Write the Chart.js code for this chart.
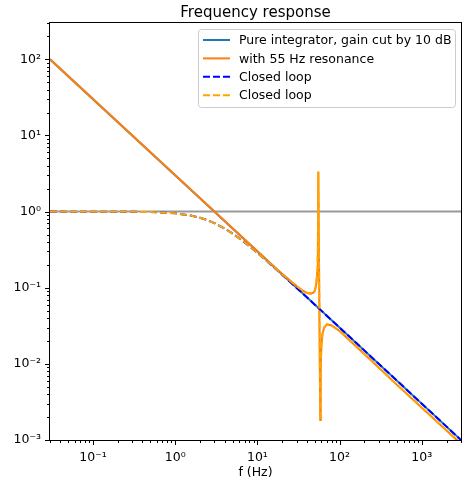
<!DOCTYPE html>
<html>
<head>
<meta charset="utf-8">
<script src="https://cdn.jsdelivr.net/npm/chart.js@4.4.0/dist/chart.umd.min.js"></script>
<style>
  html, body { margin: 0; padding: 0; background: #fff; }
</style>
</head>
<body>
<canvas id="freqChart" width="464" height="482"></canvas>
<script>
// Значения (частота в Гц, модуль)
const unityF = [0.03, 3000];
const unityG = [1, 1];

const integratorF = [0.03, 3000];
const integratorG = [100, 0.001];

const resonanceF = [0.03, 10, 20, 30, 35, 40, 45, 48, 50, 52, 53.5, 54.5, 55.1, 58.2, 59, 60, 62, 65, 70, 80, 100, 150, 200, 500, 3000];
const resonanceG = [100, 0.301, 0.152, 0.105, 0.092, 0.086, 0.084, 0.086, 0.092, 0.11, 0.16, 0.37, 3.36, 0.00183, 0.0094, 0.017, 0.025, 0.03, 0.033, 0.032, 0.027, 0.018, 0.0135, 0.0053, 0.00089];

const closedF = [0.03, 0.3, 0.6, 1, 1.5, 2, 2.5, 3, 4, 5, 7, 10, 15, 20, 30, 50, 100, 3000];
const closedG = [1, 0.995, 0.981, 0.949, 0.894, 0.832, 0.768, 0.707, 0.6, 0.514, 0.394, 0.287, 0.196, 0.148, 0.0995, 0.0599, 0.03, 0.001];

const closedResF = [0.03, 0.3, 0.6, 1, 1.5, 2, 2.5, 3, 4, 5, 7, 10, 15, 20, 30, 40, 45, 48, 50, 52, 53.5, 54.5, 55.1, 58.2, 59, 60, 62, 65, 70, 80, 100, 150, 200, 500, 3000];
const closedResG = [1, 0.995, 0.981, 0.949, 0.894, 0.832, 0.768, 0.707, 0.6, 0.514, 0.395, 0.288, 0.197, 0.15, 0.104, 0.085, 0.083, 0.085, 0.091, 0.109, 0.158, 0.36, 3.3, 0.00183, 0.0094, 0.017, 0.025, 0.03, 0.033, 0.032, 0.027, 0.018, 0.0135, 0.0053, 0.00089];

const seriesLabels = ['Pure integrator, gain cut by 10 dB', 'with 55 Hz resonance', 'Closed loop', 'Closed loop'];

const xPowers = [-2, -1, 0, 1, 2, 3];
const yPowers = [-3, -2, -1, 0, 1, 2];
const xMin = 0.03, xMax = 3000;
const yMin = 0.001, yMax = 300;

function toPoints(fs, gs) {
  return fs.map((f, i) => ({ x: f, y: gs[i] }));
}

const SUP = { '0': '⁰', '1': '¹', '2': '²', '3': '³', '4': '⁴', '5': '⁵', '6': '⁶', '7': '⁷', '8': '⁸', '9': '⁹', '-': '⁻' };
function powLabel(v) {
  const e = Math.round(Math.log10(v));
  return '10' + String(e).split('').map(c => SUP[c]).join('');
}

// основные и промежуточные деления логарифмической шкалы
function logTicks(powers, lo, hi) {
  const ticks = [];
  powers.forEach(p => {
    for (let m = 1; m <= 9; m++) {
      const v = m * Math.pow(10, p);
      if (v >= lo * 0.999 && v <= hi * 1.001) ticks.push({ value: v, major: m === 1 });
    }
  });
  return ticks;
}

const FONT = '"DejaVu Sans", sans-serif';

// рамка, деления, заголовок и легенда
const decorPlugin = {
  id: 'decor',
  afterDraw(chart) {
    const { ctx, chartArea: a, scales } = chart;
    ctx.save();
    ctx.strokeStyle = '#000';
    ctx.lineWidth = 1;
    ctx.strokeRect(a.left - 0.5, a.top - 0.5, a.right - a.left + 1, a.bottom - a.top + 1);

    scales.x.ticks.forEach(t => {
      const px = Math.round(scales.x.getPixelForValue(t.value)) + 0.5;
      ctx.beginPath();
      ctx.moveTo(px, a.bottom);
      ctx.lineTo(px, a.bottom + (t.major ? 5 : 3));
      ctx.stroke();
    });
    scales.y.ticks.forEach(t => {
      const py = Math.round(scales.y.getPixelForValue(t.value)) + 0.5;
      ctx.beginPath();
      ctx.moveTo(a.left, py);
      ctx.lineTo(a.left - (t.major ? 5 : 3), py);
      ctx.stroke();
    });

    ctx.fillStyle = '#000';
    ctx.textAlign = 'center';
    ctx.textBaseline = 'alphabetic';
    ctx.font = '15px ' + FONT;
    ctx.fillText('Frequency response', (a.left + a.right) / 2, 17);
    ctx.font = '12.5px ' + FONT;
    ctx.fillText('f (Hz)', (a.left + a.right) / 2, 476);

    // легенда
    const items = chart.data.datasets.filter(d => d.inLegend);
    const lx = 198.5, ly = 29.5, lw = 257, lh = 78;
    ctx.beginPath();
    ctx.roundRect(lx, ly, lw, lh, 3);
    ctx.fillStyle = 'rgba(255,255,255,0.8)';
    ctx.fill();
    ctx.strokeStyle = '#cccccc';
    ctx.stroke();
    ctx.textAlign = 'left';
    ctx.textBaseline = 'middle';
    items.forEach((d, i) => {
      const y = 40 + i * 18.4;
      ctx.beginPath();
      ctx.setLineDash(d.borderDash || []);
      ctx.strokeStyle = d.borderColor;
      ctx.lineWidth = 2;
      ctx.moveTo(203, y);
      ctx.lineTo(230, y);
      ctx.stroke();
      ctx.setLineDash([]);
      ctx.fillStyle = '#000';
      ctx.fillText(d.label, 239, y + 1);
    });
    ctx.restore();
  }
};

const lineBase = { pointRadius: 0, borderWidth: 2, tension: 0, fill: false };

new Chart(document.getElementById('freqChart').getContext('2d'), {
  type: 'line',
  data: {
    datasets: [
      { ...lineBase, label: '', data: toPoints(unityF, unityG), borderColor: '#999999', order: 5, inLegend: false },
      { ...lineBase, label: seriesLabels[0], data: toPoints(integratorF, integratorG), borderColor: '#1f77b4', order: 4, inLegend: true },
      { ...lineBase, label: seriesLabels[1], data: toPoints(resonanceF, resonanceG), borderColor: '#ff7f0e', order: 3, inLegend: true },
      { ...lineBase, label: seriesLabels[2], data: toPoints(closedF, closedG), borderColor: '#0000ff', borderDash: [7, 3], order: 2, inLegend: true },
      { ...lineBase, label: seriesLabels[3], data: toPoints(closedResF, closedResG), borderColor: '#ffa500', borderDash: [7, 3], order: 1, inLegend: true }
    ]
  },
  options: {
    responsive: false,
    animation: false,
    devicePixelRatio: 1,
    layout: { padding: { top: 23, right: 3, left: 0, bottom: 0 } },
    plugins: { legend: { display: false }, title: { display: false }, tooltip: { enabled: false } },
    scales: {
      x: {
        type: 'logarithmic',
        min: xMin,
        max: xMax,
        afterBuildTicks: s => { s.ticks = logTicks(xPowers, xMin, xMax); },
        afterFit: s => { s.height = 42; s.paddingLeft = 0; s.paddingRight = 0; },
        grid: { display: false, drawTicks: false },
        border: { display: false },
        ticks: {
          autoSkip: false, maxRotation: 0, padding: 10,
          color: '#000', font: { family: FONT, size: 12.5 },
          callback: (v, i, ticks) => ticks[i].major ? powLabel(v) : ''
        }
      },
      y: {
        type: 'logarithmic',
        min: yMin,
        max: yMax,
        afterBuildTicks: s => { s.ticks = logTicks(yPowers, yMin, yMax); },
        afterFit: s => { s.width = 50; s.paddingTop = 0; s.paddingBottom = 0; },
        grid: { display: false, drawTicks: false },
        border: { display: false },
        ticks: {
          autoSkip: false, padding: 9,
          color: '#000', font: { family: FONT, size: 12.5 },
          callback: (v, i, ticks) => ticks[i].major ? powLabel(v) : ''
        }
      }
    }
  },
  plugins: [decorPlugin]
});
</script>
</body>
</html>
